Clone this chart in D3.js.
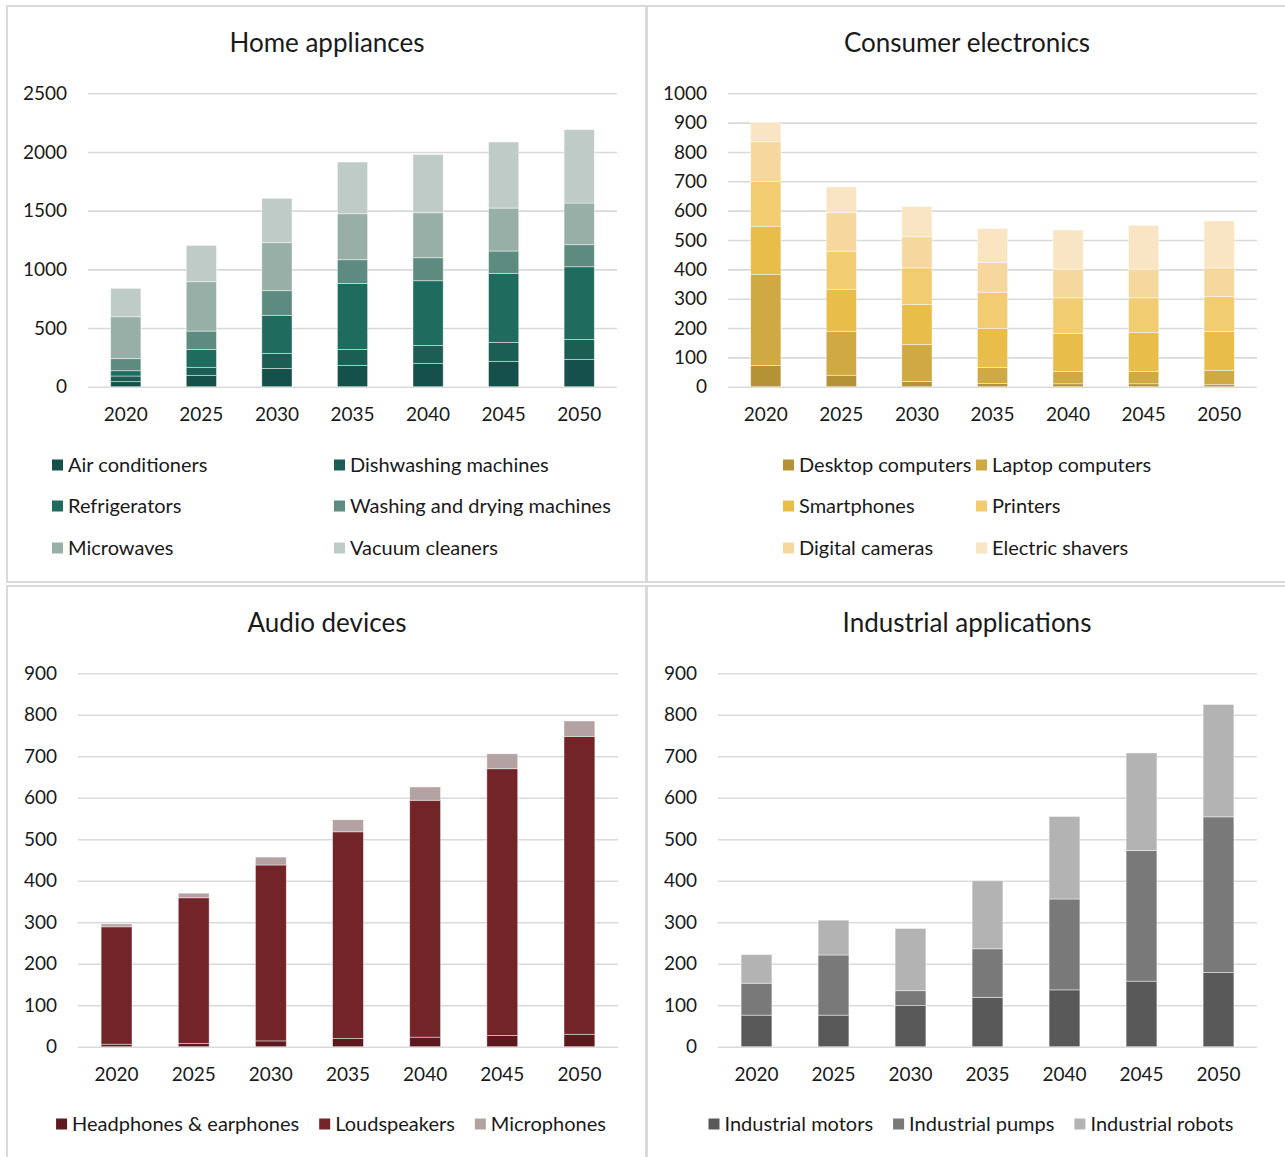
<!DOCTYPE html>
<html>
<head>
<meta charset="utf-8">
<script src="https://cdn.jsdelivr.net/npm/d3@7"></script>
<style>
  html, body { margin: 0; padding: 0; background: #ffffff; }
  svg { display: block; }
  text { font-family: Lato, "Open Sans", sans-serif; fill: #1a1a1a; }
</style>
</head>
<body>
<svg id="chart" width="1285" height="1157"></svg>
<script>
// ---- Data -------------------------------------------------------------
const years = ["2020", "2025", "2030", "2035", "2040", "2045", "2050"];

// Home appliances (stacked bottom to top)
const airConditioners       = [43, 97, 156, 182, 199, 216, 233];
const dishwashingMachines   = [48, 68, 128, 136, 153, 162, 170];
const refrigerators         = [45, 153, 324, 562, 551, 588, 619];
const washingDryingMachines = [103, 156, 210, 202, 196, 190, 188];
const microwaves            = [357, 421, 409, 392, 383, 366, 355];
const vacuumCleaners        = [242, 309, 378, 440, 497, 563, 625];

// Consumer electronics
const desktopComputers = [72, 39, 18, 11, 10, 10, 7];
const laptopComputers  = [311, 150, 126, 55, 42, 42, 49];
const smartphones      = [164, 143, 136, 132, 130, 133, 132];
const printers         = [152, 130, 125, 124, 121, 118, 119];
const digitalCameras   = [136, 131, 106, 101, 98, 98, 98];
const electricShavers  = [66, 88, 103, 116, 133, 149, 160];

// Audio devices
const headphones   = [6, 8, 14, 20, 23, 27, 30];
const loudspeakers = [283, 351, 424, 498, 571, 643, 718];
const microphones  = [7, 11, 19, 29, 32, 36, 37];

// Industrial applications
const industrialMotors = [76, 76, 99, 119, 137, 158, 179];
const industrialPumps  = [77, 145, 36, 117, 219, 315, 375];
const industrialRobots = [69, 84, 150, 164, 199, 235, 271];

// Axis ticks
const homeTicks        = [0, 500, 1000, 1500, 2000, 2500];
const electronicsTicks = [0, 100, 200, 300, 400, 500, 600, 700, 800, 900, 1000];
const audioTicks       = [0, 100, 200, 300, 400, 500, 600, 700, 800, 900];
const industrialTicks  = [0, 100, 200, 300, 400, 500, 600, 700, 800, 900];

// ---- Panel definitions ------------------------------------------------
const panels = [
  {
    title: "Home appliances",
    box: { x: 7, y: 6, w: 639, h: 576 },
    plot: { x0: 88, x1: 617, top: 93.3, base: 386.7 },
    ticks: homeTicks,
    series: [
      { name: "Air conditioners", values: airConditioners, color: "#15514a" },
      { name: "Dishwashing machines", values: dishwashingMachines, color: "#1a5e54" },
      { name: "Refrigerators", values: refrigerators, color: "#1f6c5f" },
      { name: "Washing and drying machines", values: washingDryingMachines, color: "#5e8b80" },
      { name: "Microwaves", values: microwaves, color: "#98afa8" },
      { name: "Vacuum cleaners", values: vacuumCleaners, color: "#bfcbc7" }
    ],
    legend: { type: "grid", cols: [52, 334], rows: [465, 506, 548] }
  },
  {
    title: "Consumer electronics",
    box: { x: 647, y: 6, w: 640, h: 576 },
    plot: { x0: 728, x1: 1257, top: 93.3, base: 386.7 },
    ticks: electronicsTicks,
    series: [
      { name: "Desktop computers", values: desktopComputers, color: "#b39336" },
      { name: "Laptop computers", values: laptopComputers, color: "#cfa942" },
      { name: "Smartphones", values: smartphones, color: "#e8bd4a" },
      { name: "Printers", values: printers, color: "#f2cc70" },
      { name: "Digital cameras", values: digitalCameras, color: "#f6d89f" },
      { name: "Electric shavers", values: electricShavers, color: "#f9e5c3" }
    ],
    legend: { type: "grid", cols: [783, 976], rows: [465, 506, 548] }
  },
  {
    title: "Audio devices",
    box: { x: 7, y: 586, w: 639, h: 580 },
    plot: { x0: 78, x1: 618, top: 673.3, base: 1046.7 },
    ticks: audioTicks,
    series: [
      { name: "Headphones & earphones", values: headphones, color: "#5c1a1e" },
      { name: "Loudspeakers", values: loudspeakers, color: "#722429" },
      { name: "Microphones", values: microphones, color: "#b4a1a1" }
    ],
    legend: { type: "row", cx: 331, y: 1124 }
  },
  {
    title: "Industrial applications",
    box: { x: 647, y: 586, w: 640, h: 580 },
    plot: { x0: 718, x1: 1257, top: 673.3, base: 1046.7 },
    ticks: industrialTicks,
    series: [
      { name: "Industrial motors", values: industrialMotors, color: "#595959" },
      { name: "Industrial pumps", values: industrialPumps, color: "#797979" },
      { name: "Industrial robots", values: industrialRobots, color: "#b3b3b3" }
    ],
    legend: { type: "row", cx: 971, y: 1124 }
  }
];

const svg = d3.select("#chart");
const GRID = "#d9d9d9";

panels.forEach(p => {
  const g = svg.append("g");

  // frame
  g.append("rect")
    .attr("x", p.box.x).attr("y", p.box.y)
    .attr("width", p.box.w).attr("height", p.box.h)
    .attr("fill", "none").attr("stroke", GRID).attr("stroke-width", 2);

  // title
  g.append("text")
    .attr("x", p.box.x + 320)
    .attr("y", p.box.y + 37)
    .attr("dy", "0.35em")
    .attr("text-anchor", "middle")
    .style("font-size", "26px")
    .text(p.title);

  const tickMax = p.ticks[p.ticks.length - 1];
  const y = d3.scaleLinear().domain([0, tickMax]).range([p.plot.base, p.plot.top]);
  const x = d3.scaleBand().domain(years)
    .range([p.plot.x0, p.plot.x1])
    .paddingInner(0.6).paddingOuter(0.3);

  // gridlines + y labels
  const yAxis = g.append("g")
    .attr("transform", `translate(${p.plot.x0},0)`)
    .call(d3.axisLeft(y).tickValues(p.ticks)
      .tickSize(-(p.plot.x1 - p.plot.x0)).tickPadding(21).tickFormat(d3.format("d")));
  yAxis.select(".domain").remove();
  yAxis.selectAll(".tick line").attr("stroke", GRID).attr("stroke-width", 1.6);
  yAxis.selectAll(".tick text").style("font-size", "19px").attr("fill", "#1a1a1a");

  // stacked bars
  const rows = years.map((yr, i) => {
    const r = { year: yr };
    p.series.forEach(s => { r[s.name] = s.values[i]; });
    return r;
  });
  const stack = d3.stack().keys(p.series.map(s => s.name))(rows);
  const layers = g.append("g").selectAll("g")
    .data(stack).join("g")
    .attr("fill", (d, i) => p.series[i].color);
  layers.selectAll("rect")
    .data(d => d).join("rect")
    .attr("x", d => x(d.data.year))
    .attr("width", x.bandwidth())
    .attr("y", d => y(d[1]))
    .attr("height", d => y(d[0]) - y(d[1]))
    .attr("stroke", "rgba(255,255,255,0.55)")
    .attr("stroke-width", 0.8);

  // x labels
  const xAxis = g.append("g")
    .attr("transform", `translate(0,${p.plot.base})`)
    .call(d3.axisBottom(x).tickSize(0).tickPadding(21));
  xAxis.select(".domain").remove();
  xAxis.selectAll(".tick text").style("font-size", "19px").attr("fill", "#1a1a1a");

  // legend
  const lg = g.append("g");
  if (p.legend.type === "grid") {
    p.series.forEach((s, i) => {
      const cx = p.legend.cols[i % 2];
      const cy = p.legend.rows[Math.floor(i / 2)];
      lg.append("rect").attr("x", cx).attr("y", cy - 5.5)
        .attr("width", 11).attr("height", 11).attr("fill", s.color);
      lg.append("text").attr("x", cx + 16).attr("y", cy)
        .attr("dy", "0.35em").style("font-size", "20px").text(s.name);
    });
  } else {
    const items = p.series.map(s => {
      const it = lg.append("g");
      it.append("rect").attr("x", 0).attr("y", p.legend.y - 5.5)
        .attr("width", 11).attr("height", 11).attr("fill", s.color);
      const t = it.append("text").attr("x", 16).attr("y", p.legend.y)
        .attr("dy", "0.35em").style("font-size", "20px").text(s.name);
      return { it, w: 16 + t.node().getComputedTextLength() };
    });
    const gap = 20;
    const total = d3.sum(items, d => d.w) + gap * (items.length - 1);
    let cx = p.legend.cx - total / 2;
    items.forEach(d => {
      d.it.attr("transform", `translate(${cx},0)`);
      cx += d.w + gap;
    });
  }
});
</script>
</body>
</html>
